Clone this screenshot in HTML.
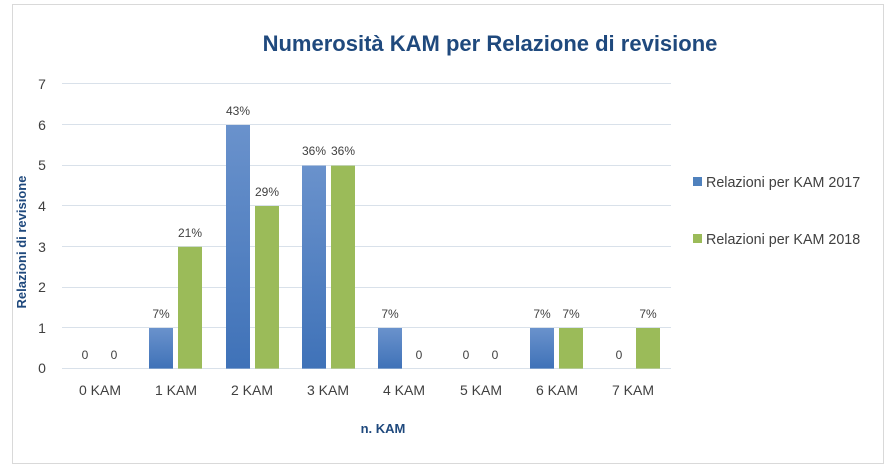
<!DOCTYPE html>
<html><head><meta charset="utf-8"><style>
body{margin:0;background:#fff;}
svg text{font-family:"Liberation Sans",sans-serif;}
</style></head><body>
<svg width="891" height="469" xmlns="http://www.w3.org/2000/svg">
<defs>
<linearGradient id="b" x1="0" y1="0" x2="0" y2="1"><stop offset="0" stop-color="#6a92cc"/><stop offset="1" stop-color="#3f72b8"/></linearGradient>
</defs>
<rect x="12.5" y="4.5" width="871" height="459" fill="#fff" stroke="#d9d9d9"/>
<text x="490" y="51" text-anchor="middle" font-size="22" font-weight="bold" fill="#1f497d">Numerosità KAM per Relazione di revisione</text>
<g stroke="#d9e1ea" stroke-width="1">
<line x1="62" x2="671" y1="83.5" y2="83.5"/><line x1="62" x2="671" y1="124.5" y2="124.5"/>
<line x1="62" x2="671" y1="165.5" y2="165.5"/><line x1="62" x2="671" y1="205.5" y2="205.5"/>
<line x1="62" x2="671" y1="246.5" y2="246.5"/><line x1="62" x2="671" y1="287.5" y2="287.5"/>
<line x1="62" x2="671" y1="327.5" y2="327.5"/><line x1="62" x2="671" y1="368.5" y2="368.5"/>
</g>
<g font-size="14" fill="#404040" text-anchor="middle">
<text x="42" y="89">7</text><text x="42" y="130">6</text><text x="42" y="170">5</text><text x="42" y="211">4</text>
<text x="42" y="252">3</text><text x="42" y="292">2</text><text x="42" y="333">1</text><text x="42" y="373">0</text>
</g>
<text transform="translate(26,242) rotate(-90)" text-anchor="middle" font-size="13" font-weight="bold" fill="#1f497d">Relazioni di revisione</text>
<g>
<rect x="149" y="328" width="24" height="40.6" fill="url(#b)"/><rect x="178" y="246.8" width="24" height="121.8" fill="#9bbb59"/>
<rect x="226" y="125" width="24" height="243.6" fill="url(#b)"/><rect x="255" y="206" width="24" height="162.6" fill="#9bbb59"/>
<rect x="302" y="165.6" width="24" height="203" fill="url(#b)"/><rect x="331" y="165.6" width="24" height="203" fill="#9bbb59"/>
<rect x="378" y="328" width="24" height="40.6" fill="url(#b)"/>
<rect x="530" y="328" width="24" height="40.6" fill="url(#b)"/><rect x="559" y="328" width="24" height="40.6" fill="#9bbb59"/>
<rect x="636" y="328" width="24" height="40.6" fill="#9bbb59"/>
</g>
<g font-size="12" fill="#404040" text-anchor="middle">
<text x="85" y="359">0</text><text x="114" y="359">0</text>
<text x="161" y="318">7%</text><text x="190" y="237">21%</text>
<text x="238" y="115">43%</text><text x="267" y="196">29%</text>
<text x="314" y="155">36%</text><text x="343" y="155">36%</text>
<text x="390" y="318">7%</text><text x="419" y="359">0</text>
<text x="466" y="359">0</text><text x="495" y="359">0</text>
<text x="542" y="318">7%</text><text x="571" y="318">7%</text>
<text x="619" y="359">0</text><text x="648" y="318">7%</text>
</g>
<g font-size="14" fill="#404040" text-anchor="middle">
<text x="100" y="395">0 KAM</text><text x="176" y="395">1 KAM</text><text x="252" y="395">2 KAM</text><text x="328" y="395">3 KAM</text>
<text x="404" y="395">4 KAM</text><text x="481" y="395">5 KAM</text><text x="557" y="395">6 KAM</text><text x="633" y="395">7 KAM</text>
</g>
<text x="383" y="433" text-anchor="middle" font-size="13" font-weight="bold" fill="#1f497d">n. KAM</text>
<rect x="693" y="177" width="9" height="9" fill="#4f81bd"/>
<text x="706" y="187" font-size="14.3" fill="#404040">Relazioni per KAM 2017</text>
<rect x="693" y="234" width="9" height="9" fill="#9bbb59"/>
<text x="706" y="244" font-size="14.3" fill="#404040">Relazioni per KAM 2018</text>
</svg>
</body></html>
